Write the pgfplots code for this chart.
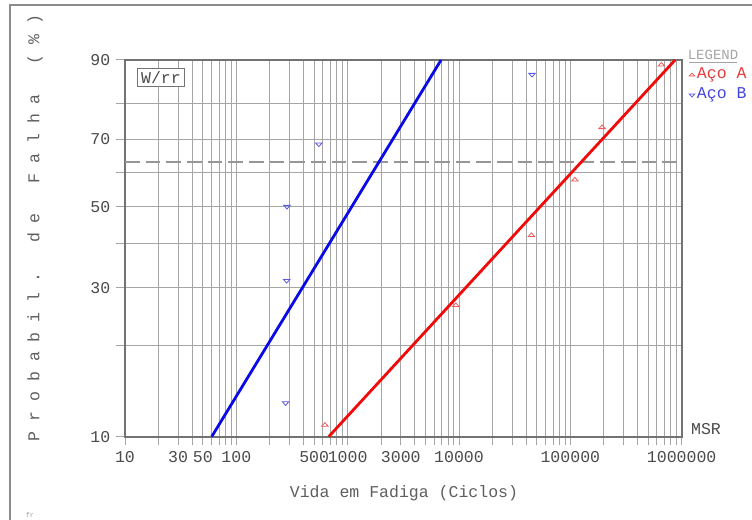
\documentclass[border=0pt]{standalone}
\usepackage{pgfplots}
\pgfplotsset{compat=1.18}
\usepackage{fontspec}
\setmainfont{Liberation Mono}
\definecolor{gridc}{RGB}{165,165,165}
\definecolor{framec}{RGB}{115,115,115}
\definecolor{tickc}{RGB}{75,75,75}
\definecolor{labc}{RGB}{95,95,95}
\definecolor{dashc}{RGB}{150,150,150}
\definecolor{legc}{RGB}{165,165,165}
\definecolor{lineblue}{RGB}{10,10,230}
\definecolor{linered}{RGB}{240,10,10}
\definecolor{mkblue}{RGB}{90,90,230}
\definecolor{mkred}{RGB}{240,90,90}
\definecolor{txtred}{RGB}{230,60,60}
\definecolor{txtblue}{RGB}{70,70,220}
\definecolor{bordc}{RGB}{140,140,140}
\newcommand{\fnt}{\fontsize{12.4}{14}\selectfont}

% Weibull probability plot: failure probability (%) vs fatigue life (cycles)
\pgfplotstableread{
x p
624 10.94
9360 26.56
44700 42.19
109700 57.81
192800 73.44
657000 89.06
}\acoA
\pgfplotstableread{
x p
277 12.96
283 31.48
285 50.00
551 68.52
45300 87.04
}\acoB

\begin{document}
\begin{tikzpicture}[x=1pt,y=1pt]
\useasboundingbox (0,0) rectangle (564,390);
\fill[white] (0,0) rectangle (564,390);
\draw[bordc, line width=1.5pt] (7.5,0) -- (7.5,386.25) -- (564,386.25);
\begin{axis}[
  at={(93.75pt,62.5pt)}, anchor=south west,
  scale only axis, width=417.5pt, height=282.5pt,
  clip=false,
  xmode=log, xmin=10, xmax=1000000,
  ymin=-2.250367, ymax=0.834032,
  y filter/.expression={ln(-ln(1-y/100))},
  xtick={10,20,30,40,50,60,70,80,90,
         100,200,300,400,500,600,700,800,900,
         1000,2000,3000,4000,5000,6000,7000,8000,9000,
         10000,20000,30000,40000,50000,60000,70000,80000,90000,
         100000,200000,300000,400000,500000,600000,700000,800000,900000,
         1000000},
  xticklabels={10,{},30,{},50,{},{},{},{},
               100,{},{},{},500,{},{},{},{},
               1000,{},3000,{},{},{},{},{},{},
               10000,{},{},{},{},{},{},{},{},
               100000,{},{},{},{},{},{},{},{},
               1000000},
  ytick={-2.250367,-1.030930,-0.366513,0.185627,0.834032},
  yticklabels={10,30,50,70,90},
  minor ytick={-1.499940,-0.671727,-0.087422,0.475885},
  minor xtick={},
  xmajorgrids, ymajorgrids, yminorgrids,
  grid style={gridc, line width=0.75pt},
  minor grid style={gridc, line width=0.75pt},
  tick align=outside, xtick pos=bottom, ytick pos=left,
  major tick length=6.5pt, minor tick length=6.5pt,
  tick style={gridc, line width=0.75pt},
  axis line style={framec, line width=1.5pt},
  ticklabel style={font=\fnt, text=tickc},
  xticklabel style={yshift=-1pt},
  yticklabel style={xshift=-1pt},
]
\addplot[dashc, line width=1.1pt, dash pattern=on 11pt off 4.5pt]
  coordinates {(10,63.2121) (1000000,63.2121)};
\addplot[lineblue, line width=2.1pt] coordinates {(60.1,10) (6900,90)};
\addplot[linered, line width=2.1pt] coordinates {(676,10) (873000,90)};
\addplot[only marks, mark=triangle, mark size=2.8pt, mkred,
  mark options={solid, yscale=0.65, line width=0.6pt}] table[x=x, y=p] {\acoA};
\addplot[only marks, mark=triangle, mark size=2.8pt, mkblue,
  mark options={solid, rotate=180, yscale=0.65, line width=0.6pt}] table[x=x, y=p] {\acoB};
% legend symbols, placed just right of the plot area
\addplot[only marks, mark=triangle, mark size=2.4pt, mkred,
  mark options={solid, yscale=0.6, line width=0.6pt}] coordinates {(1237600,86.94)};
\addplot[only marks, mark=triangle, mark size=2.4pt, mkblue,
  mark options={solid, rotate=180, yscale=0.6, line width=0.6pt}] coordinates {(1237600,82.24)};
\end{axis}
\node[draw=framec, line width=0.75pt, fill=white, inner sep=2.5pt, text=tickc, font=\fnt] at (120.75,331.9) {W/rr};
\node[text=labc, font=\fnt, rotate=90] at (26.25,219) {P~r~o~b~a~b~i~l~.~~~d~e~~~F~a~l~h~a~~~(~\%~)};
\node[text=labc, font=\fnt] at (303,20.25) {Vida em Fadiga (Ciclos)};
\node[text=tickc, font=\fnt] at (529.5,68.25) {MSR};
\node[text=legc, font=\fontsize{10.5}{12}\selectfont] at (534.75,348.75) {LEGEND};
\draw[legc, line width=0.5pt] (516.5,343.5) -- (553,343.5);
\node[text=txtred, font=\fnt, anchor=west, inner sep=0pt] at (522.5,333.75) {Aço A};
\node[text=txtblue, font=\fnt, anchor=west, inner sep=0pt] at (522.5,318.75) {Aço B};
\node[text=dashc, font=\fontsize{5}{6}\selectfont] at (22.5,3.75) {fr};
\end{tikzpicture}
\end{document}
